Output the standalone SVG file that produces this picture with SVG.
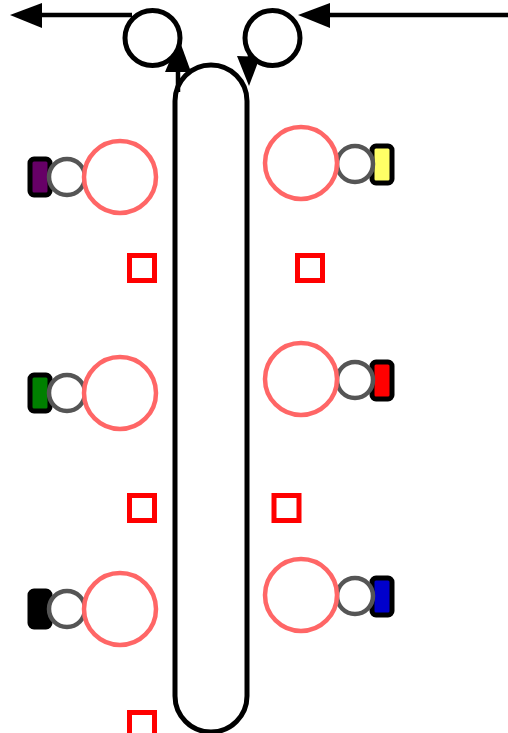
<svg xmlns="http://www.w3.org/2000/svg" width="508" height="733" viewBox="0 0 508 733">
<style>
.big{fill:#fff;stroke:#ff6666;stroke-width:4.5}
.port{fill:#fff;stroke:#555;stroke-width:4.5}
.tag{stroke:#000;stroke-width:5}
.sq{fill:none;stroke:#ff0000;stroke-width:5}
.edge{fill:none;stroke:#000;stroke-width:4.5}
.hub{fill:#fff;stroke:#000;stroke-width:5}
</style>
<g id="pill"><rect x="175" y="65" width="72" height="667" rx="36" ry="36" class="hub"/></g>
<g id="connectors">
<line x1="132" y1="15" x2="42" y2="15" class="edge"/>
<path d="M42,3 L10,15 L42,28 z" fill="#000"/>
<line x1="508" y1="15" x2="330" y2="15" class="edge"/>
<path d="M330,3 L298,15 L330,28 z" fill="#000"/>
<line x1="178" y1="92" x2="178" y2="70" class="edge"/>
<path d="M165,72 L179,39 L191,72 z" fill="#000"/>
<line x1="250" y1="38" x2="250" y2="57" class="edge"/>
<path d="M237,56 L249,86 L260,57 z" fill="#000"/>
</g>
<g id="top-left"><circle cx="152.5" cy="38" r="27.5" class="hub"/></g>
<g id="top-right"><circle cx="272.5" cy="38" r="27.5" class="hub"/></g>
<g id="left-1"><rect x="30" y="159" width="20" height="36" rx="4" class="tag" fill="#660066"/><circle cx="67" cy="177" r="18" class="port"/><circle cx="120" cy="177" r="36" class="big"/></g>
<g id="left-2"><rect x="30" y="375" width="20" height="36" rx="4" class="tag" fill="#008000"/><circle cx="67" cy="393" r="18" class="port"/><circle cx="120" cy="393" r="36" class="big"/></g>
<g id="left-3"><rect x="30" y="591" width="20" height="36" rx="4" class="tag" fill="#000"/><circle cx="67" cy="609" r="18" class="port"/><circle cx="120" cy="609" r="36" class="big"/></g>
<g id="right-1"><rect x="372" y="146" width="20" height="37" rx="4" class="tag" fill="#ffff66"/><circle cx="355" cy="164" r="18" class="port"/><circle cx="301" cy="163" r="36" class="big"/></g>
<g id="right-2"><rect x="372" y="362" width="20" height="37" rx="4" class="tag" fill="#ff0000"/><circle cx="355" cy="380" r="18" class="port"/><circle cx="301" cy="379" r="36" class="big"/></g>
<g id="right-3"><rect x="372" y="578" width="20" height="37" rx="4" class="tag" fill="#0000cc"/><circle cx="355" cy="596" r="18" class="port"/><circle cx="301" cy="595" r="36" class="big"/></g>
<g id="sq-1"><rect x="129.5" y="255.5" width="25" height="25" class="sq"/></g>
<g id="sq-2"><rect x="297.5" y="255.5" width="25" height="25" class="sq"/></g>
<g id="sq-3"><rect x="129.5" y="495.5" width="25" height="25" class="sq"/></g>
<g id="sq-4"><rect x="274" y="495.5" width="25" height="25" class="sq"/></g>
<g id="sq-5"><rect x="129.5" y="712.5" width="25" height="25" class="sq"/></g>
</svg>
